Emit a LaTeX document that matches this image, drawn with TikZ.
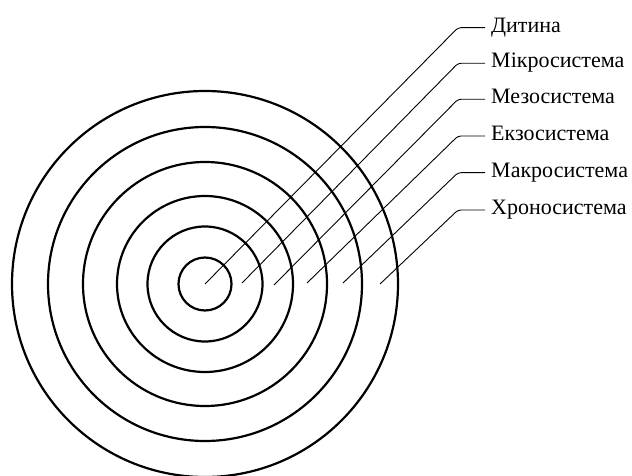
\documentclass[tikz,border=0pt]{standalone}
\usepackage{fontspec}
\setmainfont{Liberation Serif}
\begin{document}
\begin{tikzpicture}[x=1pt,y=-1pt,
  ring/.style={line width=2.2pt},
  leader/.style={line width=0.9pt, rounded corners=3pt},
  lab/.style={anchor=base west, inner sep=0pt, font=\fontsize{22}{25}\selectfont}]
\useasboundingbox (0,0) rectangle (632,476);
\coordinate (c) at (205,284);
\foreach \r in {26.5,57.5,88,122,157,193} \draw[ring] (c) circle[radius=\r];
\foreach \n/\sx/\sy/\ky/\t in {
  1/205/284/27.7/Дитина,
  2/242/283/63.3/Мікросистема,
  3/274/285/99.3/Мезосистема,
  4/307/283/136/Екзосистема,
  5/343/283/172.7/Макросистема,
  6/380/284/210/Хроносистема}{
  \coordinate (s\n) at (\sx,\sy);
  \coordinate (k\n) at (458,\ky);
  \coordinate (e\n) at (485,\ky);
  \node[lab] (l\n) at (491,\ky+4.6) {\t};
  \draw[leader] (s\n) -- (k\n) -- (e\n);
}
\end{tikzpicture}
\end{document}
